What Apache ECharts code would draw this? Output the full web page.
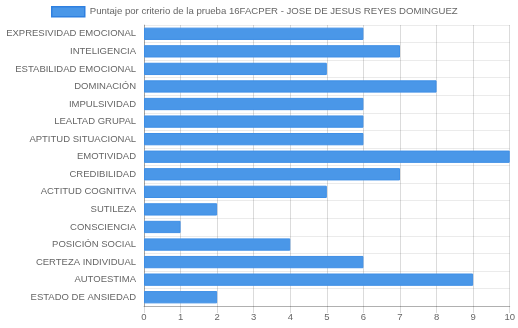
<!DOCTYPE html>
<html><head><meta charset="utf-8">
<script src="https://cdn.jsdelivr.net/npm/echarts@6/dist/echarts.min.js"></script>
<style>html,body{margin:0;padding:0;background:#fff}#c{width:518px;height:328px}</style>
</head><body><div id="c"></div>
<script>
var categories = ["EXPRESIVIDAD EMOCIONAL","INTELIGENCIA","ESTABILIDAD EMOCIONAL","DOMINACIÓN","IMPULSIVIDAD","LEALTAD GRUPAL","APTITUD SITUACIONAL","EMOTIVIDAD","CREDIBILIDAD","ACTITUD COGNITIVA","SUTILEZA","CONSCIENCIA","POSICIÓN SOCIAL","CERTEZA INDIVIDUAL","AUTOESTIMA","ESTADO DE ANSIEDAD"];
var values = [6,7,5,8,6,6,6,10,7,5,2,1,4,6,9,2];
var seriesName = "Puntaje por criterio de la prueba 16FACPER - JOSE DE JESUS REYES DOMINGUEZ";
var chart = echarts.init(document.getElementById('c'), null, {renderer:'canvas'});
var font = 'Liberation Sans, Arial, sans-serif';
chart.setOption({
  animation:false,
  legend:{top:6,left:51,itemWidth:33,itemHeight:10,itemGap:4,padding:0,
    textStyle:{color:'#666',fontSize:9.6,fontFamily:font},
    data:[{name:seriesName,icon:'rect',itemStyle:{color:'#4a97e8',borderColor:'#2f80e0',borderWidth:1.5}}]},
  grid:{left:144,right:7,top:25,bottom:22},
  xAxis:{type:'value',min:0,max:10,interval:1,
    axisLine:{show:true,lineStyle:{color:'rgba(0,0,0,0.25)'}},
    axisTick:{show:true,length:7,lineStyle:{color:'rgba(0,0,0,0.15)'}},
    axisLabel:{color:'#666',fontSize:9.5,fontFamily:font,margin:6},
    splitLine:{show:true,lineStyle:{color:'rgba(0,0,0,0.14)'}}},
  yAxis:{type:'category',inverse:true,data:categories,
    axisLine:{show:true,lineStyle:{color:'rgba(0,0,0,0.25)'}},
    axisTick:{show:false},
    axisLabel:{color:'#666',fontSize:9.5,fontFamily:font,margin:8},
    splitLine:{show:true,lineStyle:{color:'rgba(0,0,0,0.08)'}}},
  series:[{type:'bar',name:seriesName,data:values,barCategoryGap:'30%',
    itemStyle:{color:'#4a97e8',borderColor:'#3f8fe6',borderWidth:1}}]
});
</script></body></html>
